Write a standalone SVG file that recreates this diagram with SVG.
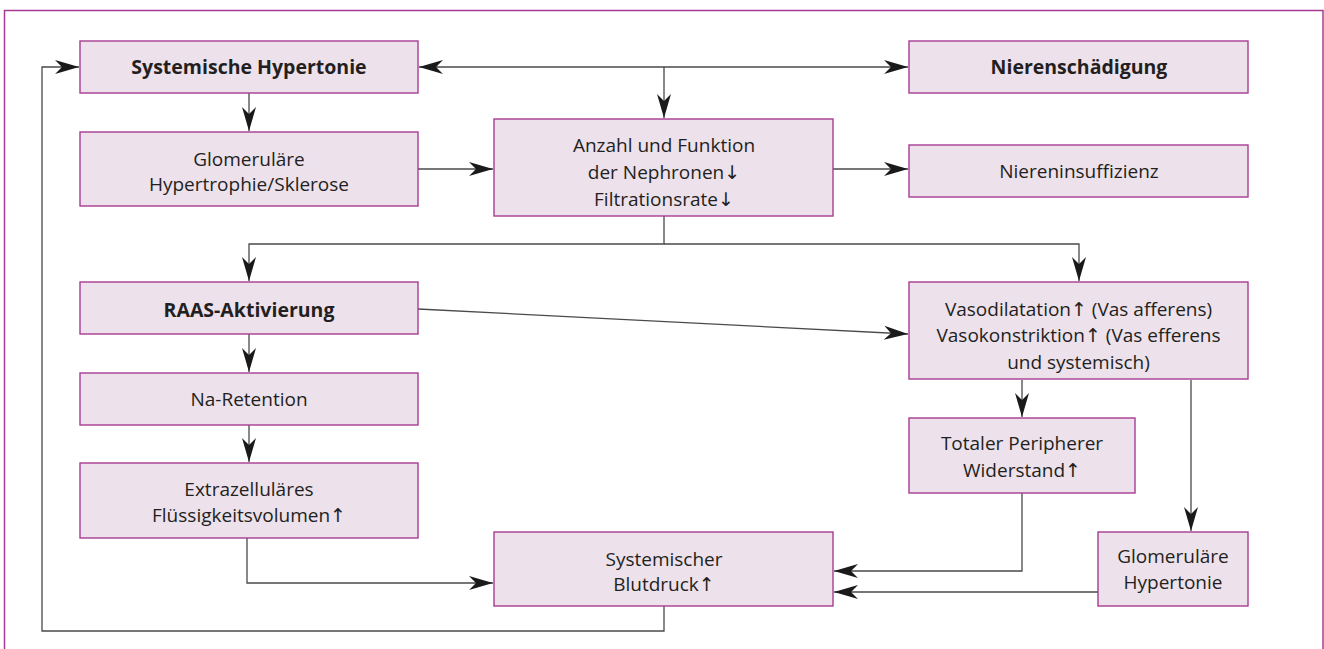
<svg xmlns="http://www.w3.org/2000/svg" width="1324" height="649" viewBox="0 0 1324 649">
<style>
.box{fill:#ede1ec;stroke:#a53c92;stroke-width:1.4}
.t{font-family:"Open Sans","Noto Sans","DejaVu Sans",sans-serif;font-size:19px;fill:#231f20;text-anchor:middle}
.b{font-weight:bold;font-size:19.5px}
.ln{fill:none;stroke:#4a4a4a;stroke-width:1.3}
.frame{fill:none;stroke:#a53c92;stroke-width:1.5}
</style>
<defs>
<marker id="ah" viewBox="-25 -8 26 16" refX="0" refY="0" markerWidth="26" markerHeight="16" markerUnits="userSpaceOnUse" orient="auto-start-reverse">
<path d="M0,0 L-24,-7 L-17,0 L-24,7 Z" fill="#1a1a1a"/>
</marker>
</defs>
<rect width="1324" height="649" fill="#ffffff"/>
<path class="frame" d="M4.5,649 V10.5 H1323 V649"/>
<g id="connectors">
<path class="ln" d="M664,606 V631 H42 V67 H79" marker-end="url(#ah)"/>
<path class="ln" d="M419,67 H908" marker-start="url(#ah)" marker-end="url(#ah)"/>
<path class="ln" d="M664,67 V118" marker-end="url(#ah)"/>
<path class="ln" d="M249,93 V131" marker-end="url(#ah)"/>
<path class="ln" d="M418,169 H493" marker-end="url(#ah)"/>
<path class="ln" d="M833,169 H908" marker-end="url(#ah)"/>
<path class="ln" d="M664,216 V244 H249 V281" marker-end="url(#ah)"/>
<path class="ln" d="M664,244 H1079 V281" marker-end="url(#ah)"/>
<path class="ln" d="M418,309 L908,334" marker-end="url(#ah)"/>
<path class="ln" d="M249,334 V372" marker-end="url(#ah)"/>
<path class="ln" d="M249,425 V462" marker-end="url(#ah)"/>
<path class="ln" d="M247,538 V583 H493" marker-end="url(#ah)"/>
<path class="ln" d="M1022,380 V417" marker-end="url(#ah)"/>
<path class="ln" d="M1191,380 V531" marker-end="url(#ah)"/>
<path class="ln" d="M1022,493 V571 H834" marker-end="url(#ah)"/>
<path class="ln" d="M1098,592 H834" marker-end="url(#ah)"/>
</g>
<g id="n-syshyp"><rect class="box" x="80" y="41" width="338" height="52"/><text class="t b" x="249" y="74">Systemische Hypertonie</text></g>
<g id="n-glomhyptr"><rect class="box" x="80" y="132" width="338" height="74"/><text class="t" x="249" y="165.5">Glomeruläre</text><text class="t" x="249" y="191">Hypertrophie/Sklerose</text></g>
<g id="n-anzahl"><rect class="box" x="494" y="119" width="339" height="97"/><text class="t" x="664" y="152">Anzahl und Funktion</text><text class="t" x="664" y="179">der Nephronen↓</text><text class="t" x="664" y="205.5">Filtrationsrate↓</text></g>
<g id="n-nierensch"><rect class="box" x="909" y="41" width="339" height="52"/><text class="t b" x="1079" y="74">Nierenschädigung</text></g>
<g id="n-niereninsuff"><rect class="box" x="909" y="145" width="339" height="52"/><text class="t" x="1079" y="177.5">Niereninsuffizienz</text></g>
<g id="n-raas"><rect class="box" x="80" y="282" width="338" height="52"/><text class="t b" x="249" y="316.5">RAAS-Aktivierung</text></g>
<g id="n-na"><rect class="box" x="80" y="373" width="338" height="52"/><text class="t" x="249" y="405.5">Na-Retention</text></g>
<g id="n-extra"><rect class="box" x="80" y="463" width="338" height="75"/><text class="t" x="249" y="495.5">Extrazelluläres</text><text class="t" x="249" y="522">Flüssigkeitsvolumen↑</text></g>
<g id="n-vaso"><rect class="box" x="909" y="282" width="339" height="97"/><text class="t" x="1078.5" y="315.5">Vasodilatation↑ (Vas afferens)</text><text class="t" x="1078.5" y="342">Vasokonstriktion↑ (Vas efferens</text><text class="t" x="1078.5" y="368.5">und systemisch)</text></g>
<g id="n-tpr"><rect class="box" x="909" y="418" width="226" height="75"/><text class="t" x="1022" y="450">Totaler Peripherer</text><text class="t" x="1022" y="476.5">Widerstand↑</text></g>
<g id="n-glomhyp"><rect class="box" x="1098" y="532" width="150" height="74"/><text class="t" x="1173" y="562.5">Glomeruläre</text><text class="t" x="1173" y="589">Hypertonie</text></g>
<g id="n-blutdruck"><rect class="box" x="494" y="532" width="339" height="74"/><text class="t" x="664" y="565.5">Systemischer</text><text class="t" x="664" y="591">Blutdruck↑</text></g>
</svg>
